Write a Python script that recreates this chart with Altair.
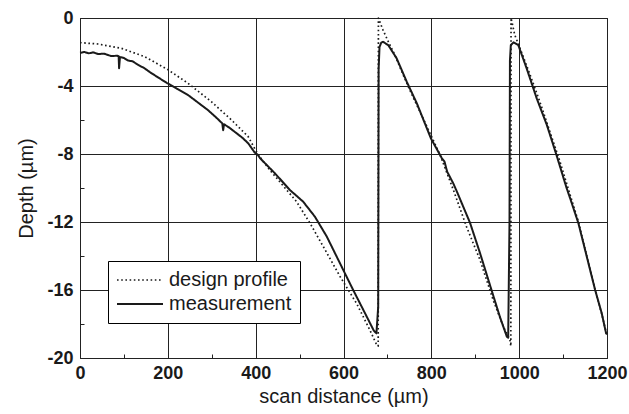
import altair as alt
import pandas as pd

# Design (ideal) sawtooth profile, depth in micrometres
design_x = [0, 41, 94, 147, 199, 246, 299, 345, 383, 395, 405, 429, 493, 524, 554, 592, 630,
            660, 674, 679, 679.5, 690, 702, 717, 736, 751, 774, 797, 820, 850, 880, 911, 941,
            964, 979, 981, 981.5, 990, 1002, 1025, 1047, 1070, 1093, 1116, 1135, 1154, 1173,
            1188, 1200]
design_y = [-1.45, -1.53, -1.78, -2.27, -3.02, -3.84, -4.92, -6.0, -6.98, -7.55, -8.0, -8.84,
            -10.8, -12.08, -13.45, -15.2, -16.8, -18.35, -19.14, -19.3, 0.0, -0.71, -1.39,
            -2.18, -3.35, -4.24, -5.51, -6.78, -8.06, -10.1, -12.27, -14.24, -16.6, -18.16,
            -18.94, -19.3, 0.0, -1.0, -1.78, -3.35, -4.92, -6.69, -8.45, -10.4, -12.0, -14.0,
            -16.0, -17.4, -18.7]

# Measured surface profile
meas_x = [0, 10, 20, 30, 41, 55, 71, 85, 88, 89, 91, 100, 109, 120, 130, 147, 160, 175, 199,
          220, 246, 270, 291, 310, 324, 326, 328, 340, 352, 370, 383, 392, 398, 405, 410, 444,
          478, 508, 535, 562, 592, 622, 653, 669, 675, 679, 680, 682, 686, 690, 702, 721, 744,
          767, 799, 824, 830, 836, 850, 858, 888, 911, 937, 956, 972, 975, 978, 979, 981, 987,
          998, 1017, 1040, 1063, 1085, 1108, 1116, 1135, 1154, 1173, 1188, 1198, 1200]
meas_y = [-2.05, -2.0, -2.08, -2.02, -2.12, -2.1, -2.24, -2.22, -2.25, -2.95, -2.3, -2.35,
          -2.5, -2.55, -2.72, -2.96, -3.2, -3.45, -3.84, -4.15, -4.53, -5.0, -5.41, -5.85,
          -6.2, -6.6, -6.25, -6.45, -6.69, -7.05, -7.37, -7.7, -7.92, -8.05, -8.25, -9.14,
          -10.12, -10.8, -11.69, -12.86, -14.43, -16.0, -17.57, -18.39, -18.55, -17.0, -3.0,
          -1.7, -1.45, -1.4, -1.6, -2.37, -3.75, -5.02, -7.08, -8.25, -8.45, -9.04, -9.73,
          -10.2, -12.04, -13.84, -16.0, -17.57, -18.75, -18.8, -12.0, -2.5, -1.6, -1.43,
          -1.59, -2.96, -4.73, -6.29, -8.06, -10.0, -10.6, -12.08, -14.04, -16.0, -17.37,
          -18.55, -18.6]

series_names = ["design profile", "measurement"]

x_major = [0, 200, 400, 600, 800, 1000, 1200]
x_minor = [100, 300, 500, 700, 900, 1100]
y_major = [0, -4, -8, -12, -16, -20]
y_minor = [-2, -6, -10, -14, -18]

rows = []
for i, (x, y) in enumerate(zip(design_x, design_y)):
    rows.append({"x": x, "y": y, "series": series_names[0], "i": i})
for i, (x, y) in enumerate(zip(meas_x, meas_y)):
    rows.append({"x": x, "y": y, "series": series_names[1], "i": i})
df = pd.DataFrame(rows)

FONT = "Liberation Sans"
INK = "#1a1a1a"
PLAIN_NUMBER = "'' + datum.value"  # no thousands separator, ASCII hyphen for negatives

x_scale = alt.Scale(domain=[0, 1200], nice=False, zero=False)
y_scale = alt.Scale(domain=[-20, 0], nice=False, zero=False)

lines = alt.Chart(df).mark_line(color=INK, strokeJoin="round").encode(
    x=alt.X("x:Q", scale=x_scale,
            axis=alt.Axis(values=x_major, title="scan distance (µm)", grid=True,
                          gridColor="#222222", gridWidth=1, ticks=False, domain=False,
                          labelExpr=PLAIN_NUMBER,
                          labelFontWeight="bold", labelFontSize=18, labelPadding=6,
                          titleFontSize=20, titleFontWeight="normal", titlePadding=4,
                          labelFlush=False)),
    y=alt.Y("y:Q", scale=y_scale,
            axis=alt.Axis(values=y_major, title="Depth (µm)", grid=True,
                          gridColor="#222222", gridWidth=1, ticks=False, domain=False,
                          labelExpr=PLAIN_NUMBER,
                          labelFontWeight="bold", labelFontSize=18, labelPadding=7,
                          titleFontSize=20, titleFontWeight="normal", titlePadding=10,
                          labelFlush=False)),
    strokeDash=alt.StrokeDash(
        "series:N",
        scale=alt.Scale(domain=series_names, range=[[1.6, 2.6], [1, 0]]),
        legend=alt.Legend(title=None, orient="none", legendX=28, legendY=243,
                          strokeColor="black", fillColor="white", padding=8,
                          symbolType="stroke", symbolSize=2116, symbolStrokeWidth=1.5,
                          symbolStrokeColor=INK, labelFont=FONT, labelFontSize=20,
                          labelColor=INK, labelOffset=5, clipHeight=22, rowPadding=2),
    ),
    strokeWidth=alt.StrokeWidth(
        "series:N", scale=alt.Scale(domain=series_names, range=[1.7, 2.0]), legend=None),
    order="i:Q",
)

# Inward minor ticks on the bottom and left edges
minor = alt.Chart(df).mark_point(opacity=0).encode(
    x=alt.X("x:Q", scale=x_scale,
            axis=alt.Axis(values=x_minor, orient="bottom", labels=False, title=None,
                          domain=False, grid=False, ticks=True, tickSize=4, offset=-4,
                          tickColor="#222222")),
    y=alt.Y("y:Q", scale=y_scale,
            axis=alt.Axis(values=y_minor, orient="left", labels=False, title=None,
                          domain=False, grid=False, ticks=True, tickSize=4, offset=-4,
                          tickColor="#222222")),
)

chart = (
    alt.layer(lines, minor)
    .resolve_axis(x="independent", y="independent")
    .properties(width=527, height=340,
                autosize=alt.AutoSizeParams(type="none"),
                padding={"left": 80, "top": 18, "right": 22, "bottom": 56},
                background="white")
    .configure_view(stroke="black", strokeWidth=1)
    .configure_axis(labelFont=FONT, titleFont=FONT, labelColor=INK, titleColor=INK)
)

chart.save("out.html", embed_options={"renderer": "svg", "actions": False})
